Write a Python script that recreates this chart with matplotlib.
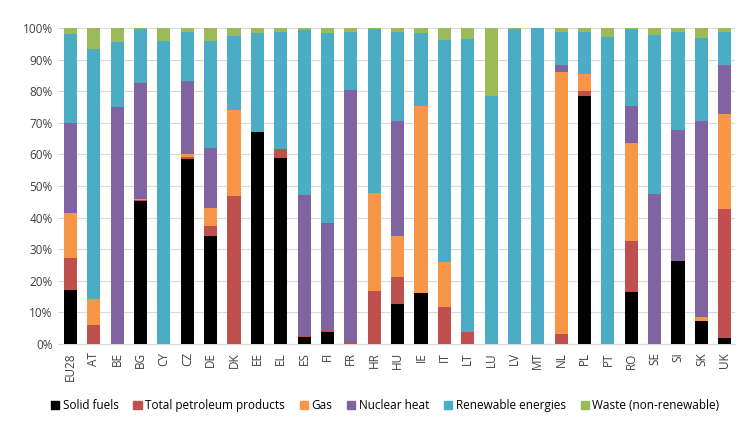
import matplotlib

matplotlib.use("Agg")

import matplotlib.pyplot as plt
import numpy as np
from matplotlib.patches import Patch
from matplotlib.ticker import FuncFormatter

countries = ["EU28", "AT", "BE", "BG", "CY", "CZ", "DE", "DK", "EE", "EL", "ES", "FI", "FR", "HR",
             "HU", "IE", "IT", "LT", "LU", "LV", "MT", "NL", "PL", "PT", "RO", "SE", "SI", "SK", "UK"]

solid_fuels = [17.1, 0, 0, 45.2, 0, 58.6, 34.1, 0, 67.1, 58.8, 2.1, 3.9, 0, 0,
               12.6, 16.0, 0, 0, 0, 0, 0, 0, 78.4, 0, 16.5, 0, 26.3, 7.1, 2.0]
petroleum = [10.0, 6.0, 0, 0.3, 0, 0.6, 3.2, 46.7, 0, 2.9, 0.4, 0.5, 0.7, 16.7,
             8.7, 0, 11.8, 3.9, 0, 0, 0, 3.2, 1.5, 0, 16.0, 0, 0, 0, 40.8]
gas = [14.2, 8.1, 0, 0.5, 0, 0.8, 5.6, 27.2, 0, 0, 0, 0, 0, 31.2,
       12.8, 59.2, 14.0, 0, 0, 0, 0, 83.0, 5.4, 0, 31.1, 0, 0, 1.5, 30.1]
nuclear = [28.7, 0, 74.9, 36.5, 0, 23.1, 19.0, 0, 0, 0, 44.6, 33.9, 79.5, 0,
           36.4, 0, 0, 0, 0, 0, 0, 2.1, 0, 0, 11.6, 47.3, 41.3, 62.1, 15.5]
renewables = [28.1, 79.3, 20.6, 17.2, 96.0, 15.7, 34.1, 23.5, 31.3, 37.1, 52.1, 60.1, 18.4, 51.8,
              28.3, 23.2, 70.5, 92.6, 78.4, 99.7, 100.0, 10.3, 13.5, 97.1, 24.5, 50.5, 31.0, 26.0, 10.2]
waste = [1.9, 6.6, 4.5, 0.3, 4.0, 1.2, 4.0, 2.6, 1.6, 1.2, 0.8, 1.6, 1.4, 0.3,
         1.2, 1.6, 3.7, 3.5, 21.6, 0.3, 0, 1.4, 1.2, 2.9, 0.3, 2.2, 1.4, 3.3, 1.4]

series = [
    ("Solid fuels", solid_fuels, "#000000"),
    ("Total petroleum products", petroleum, "#C0504D"),
    ("Gas", gas, "#F79646"),
    ("Nuclear heat", nuclear, "#8064A2"),
    ("Renewable energies", renewables, "#4BACC6"),
    ("Waste (non-renewable)", waste, "#9BBB59"),
]

plt.rcParams["font.family"] = ["Open Sans", "DejaVu Sans"]

fig = plt.figure(figsize=(7.48, 4.23), dpi=100)
ax = fig.add_axes([0.077, 0.187, 0.906, 0.747])

x = np.arange(len(countries))
bottom = np.zeros(len(countries))
for name, vals, color in series:
    v = np.array(vals, dtype=float)
    ax.bar(x, v, bottom=bottom, width=0.56, color=color, label=name, zorder=3)
    bottom += v

ax.set_ylim(0, 100)
ax.set_xlim(-0.55, len(countries) - 0.55)
ax.set_yticks(np.arange(0, 101, 10))
ax.yaxis.set_major_formatter(FuncFormatter(lambda v, _: f"{v:.0f}%"))
ax.set_xticks(x)
ax.set_xticklabels(countries, rotation=90)
ax.tick_params(axis="both", length=0, labelsize=8.5, colors="#404040")
ax.tick_params(axis="x", pad=6)
ax.grid(axis="y", color="#D9D9D9", linewidth=0.8, zorder=0)
for side in ("left", "right", "top"):
    ax.spines[side].set_visible(False)
ax.spines["bottom"].set_color("#D9D9D9")

handles = [Patch(color=c, label=n) for n, _, c in series]
fig.legend(handles=handles, loc="lower center", bbox_to_anchor=(0.515, 0.0), ncol=6, frameon=False,
           fontsize=8.5, handlelength=0.7, handleheight=0.7, handletextpad=0.3, columnspacing=1.25)

fig.savefig("out.png", dpi=100)
